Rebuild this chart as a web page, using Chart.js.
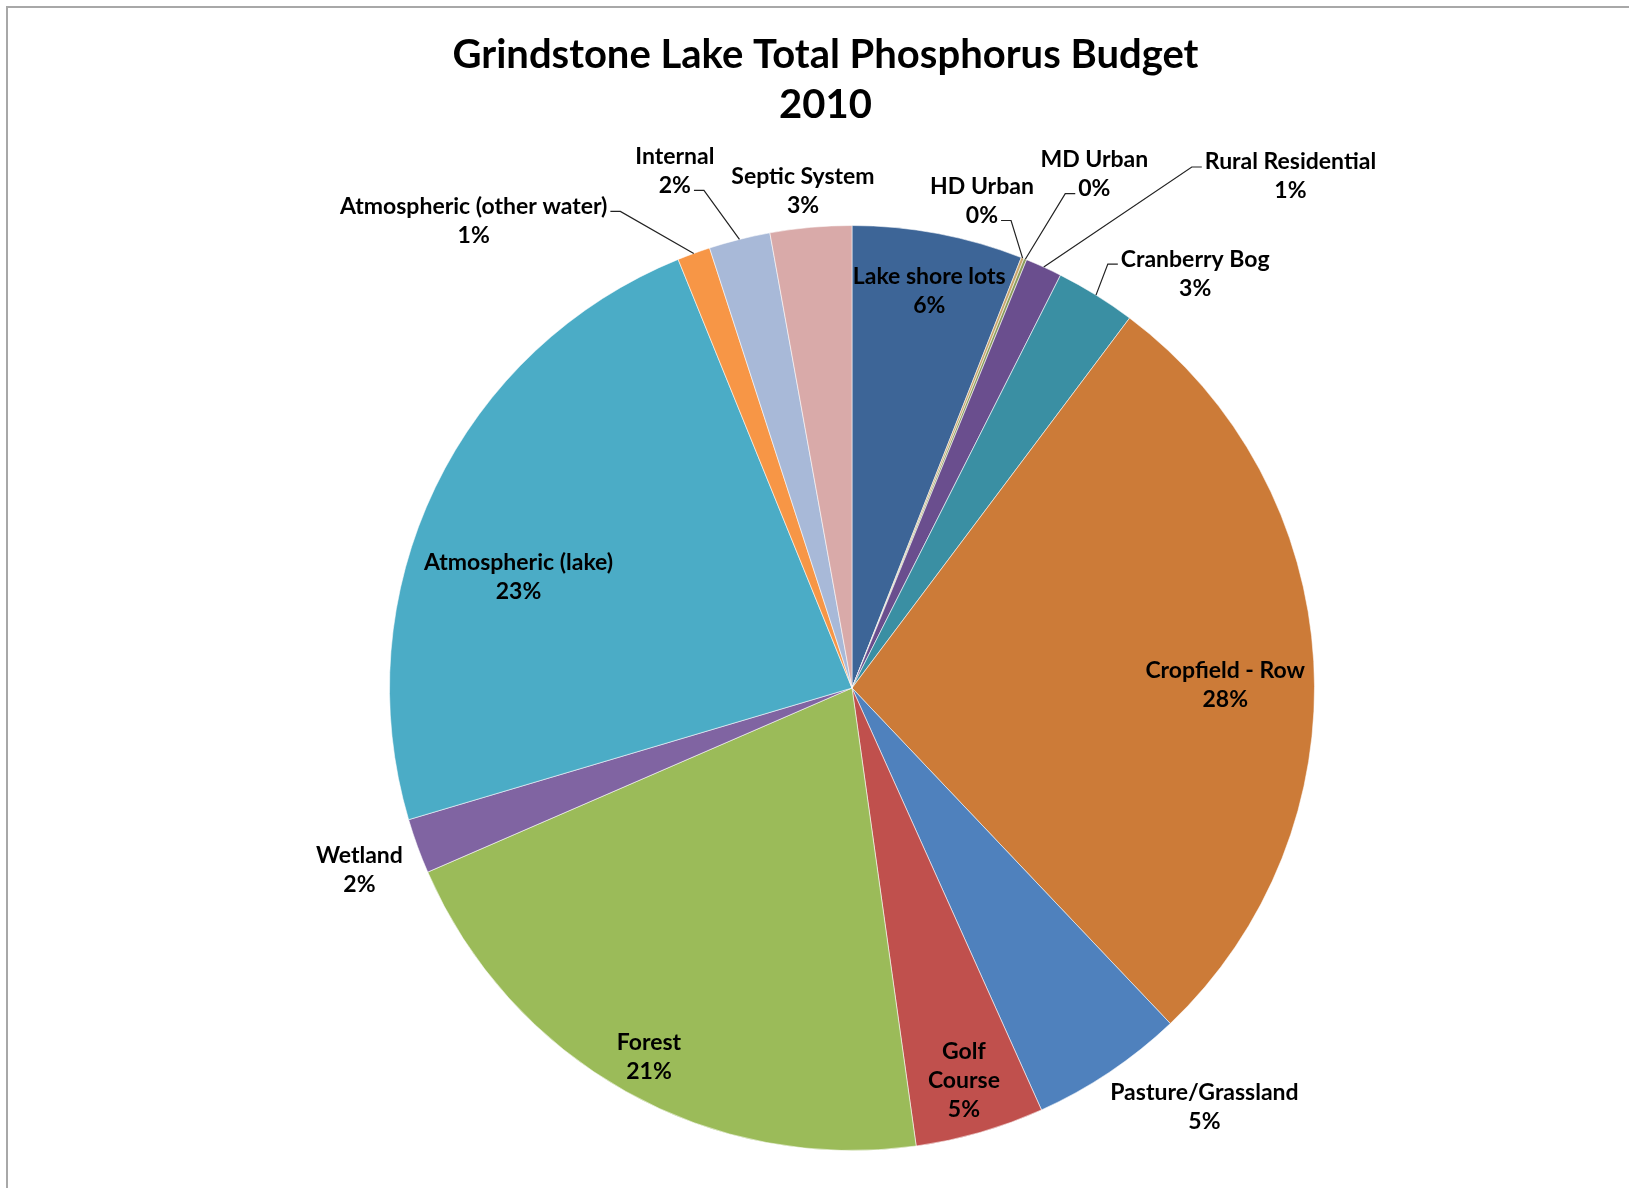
<!DOCTYPE html>
<html>
<head>
<meta charset="utf-8">
<script src="https://cdn.jsdelivr.net/npm/chart.js@4.4.1/dist/chart.umd.min.js"></script>
<style>
  body { margin: 0; background: #fff; }
  #wrap { position: relative; width: 1629px; height: 1188px; overflow: hidden; }
  #frame {
    position: absolute; left: 6px; top: 6px; width: 1700px; height: 1300px;
    border-left: 2px solid #a8a8a8; border-top: 2px solid #a8a8a8;
  }
  #chart { position: absolute; left: 0; top: 0; }
</style>
</head>
<body>
<div id="wrap">
  <div id="frame"></div>
  <canvas id="chart" width="1629" height="1188"></canvas>
</div>
<script>
// categories, clockwise from 12 o'clock
const categories = [
  "Lake shore lots", "HD Urban", "MD Urban", "Rural Residential", "Cranberry Bog",
  "Cropfield - Row", "Pasture/Grassland", "Golf Course", "Forest", "Wetland",
  "Atmospheric (lake)", "Atmospheric (other water)", "Internal", "Septic System"
];
// share of total phosphorus load (%)
const shares = [5.96, 0.1, 0.1, 1.28, 2.8, 27.66, 5.36, 4.5, 20.69, 1.92, 23.45, 1.15, 2.14, 2.84];

const sliceColors = [
  "#3d6597", "#c8a46c", "#8c9d5c", "#6a4e8e", "#3a8fa3",
  "#cc7b38", "#4f81bd", "#c0504d", "#9bbb59", "#8064a2",
  "#4bacc6", "#f79646", "#a8b9d8", "#d9aaa9"
];

// label text lines (name part), percent is appended from the data
const labelLines = [
  ["Lake shore lots"], ["HD Urban"], ["MD Urban"], ["Rural Residential"], ["Cranberry Bog"],
  ["Cropfield - Row"], ["Pasture/Grassland"], ["Golf", "Course"], ["Forest"], ["Wetland"],
  ["Atmospheric (lake)"], ["Atmospheric (other water)"], ["Internal"], ["Septic System"]
];
// label centre, as offset from pie centre in units of the radius
const labelOffsets = [
  [0.167, -0.858], [0.281, -1.053], [0.524, -1.111], [0.948, -1.106], [0.742, -0.896],
  [0.807, -0.006], [0.762, 0.906], [0.242, 0.848], [-0.439, 0.798], [-1.065, 0.393],
  [-0.721, -0.239], [-0.818, -1.010], [-0.383, -1.118], [-0.106, -1.074]
];
// which text row the leader line hangs off (-1 = no leader)
const leaderRow = [-1, 1, 1, 0, 0, -1, -1, -1, -1, -1, -1, 0, 1, -1];

const titleLines = ["Grindstone Lake Total Phosphorus Budget", "2010"];

const LABEL_FONT = "bold 23px Lato";
const LINE_H = 29;

const titlePlugin = {
  id: "excelTitle",
  afterDraw(chart) {
    const ctx = chart.ctx;
    ctx.save();
    ctx.fillStyle = "#000";
    ctx.font = "bold 40px Lato";
    ctx.textAlign = "center";
    ctx.textBaseline = "middle";
    const cx = chart.width / 2 + 11;
    titleLines.forEach((t, i) => ctx.fillText(t, cx, 55 + i * 50));
    ctx.restore();
  }
};

const labelPlugin = {
  id: "sliceLabels",
  afterDatasetsDraw(chart) {
    const ctx = chart.ctx;
    const meta = chart.getDatasetMeta(0);
    const total = shares.reduce((a, b) => a + b, 0);
    ctx.save();
    ctx.font = LABEL_FONT;
    ctx.textAlign = "center";
    ctx.textBaseline = "middle";
    meta.data.forEach((arc, i) => {
      const R = arc.outerRadius;
      const lx = arc.x + labelOffsets[i][0] * R;
      const ly = arc.y + labelOffsets[i][1] * R;
      const lines = labelLines[i].concat([Math.round(shares[i] / total * 100) + "%"]);
      const top = ly - (lines.length - 1) * LINE_H / 2;

      if (leaderRow[i] >= 0) {
        const mid = (arc.startAngle + arc.endAngle) / 2;
        const px = arc.x + Math.cos(mid) * R;
        const py = arc.y + Math.sin(mid) * R;
        const row = lines[leaderRow[i]];
        const w = ctx.measureText(row).width;
        const side = px > lx ? 1 : -1;
        const sx = lx + side * (w / 2 + 3);
        const sy = top + leaderRow[i] * LINE_H + 5;
        ctx.strokeStyle = "#222";
        ctx.lineWidth = 1.2;
        ctx.beginPath();
        ctx.moveTo(sx, sy);
        ctx.lineTo(sx + side * 10, sy);
        ctx.lineTo(px, py);
        ctx.stroke();
      }

      ctx.fillStyle = "#000";
      lines.forEach((t, k) => ctx.fillText(t, lx, top + k * LINE_H));
    });
    ctx.restore();
  }
};

new Chart(document.getElementById("chart"), {
  type: "pie",
  data: {
    labels: categories,
    datasets: [{
      data: shares,
      backgroundColor: sliceColors,
      borderColor: "rgba(255,255,255,0.55)",
      borderWidth: 1
    }]
  },
  options: {
    responsive: false,
    animation: false,
    layout: { padding: { top: 225, bottom: 37, left: 389, right: 314 } },
    plugins: {
      legend: { display: false },
      tooltip: { enabled: false },
      title: { display: false }
    }
  },
  plugins: [titlePlugin, labelPlugin]
});
</script>
</body>
</html>
